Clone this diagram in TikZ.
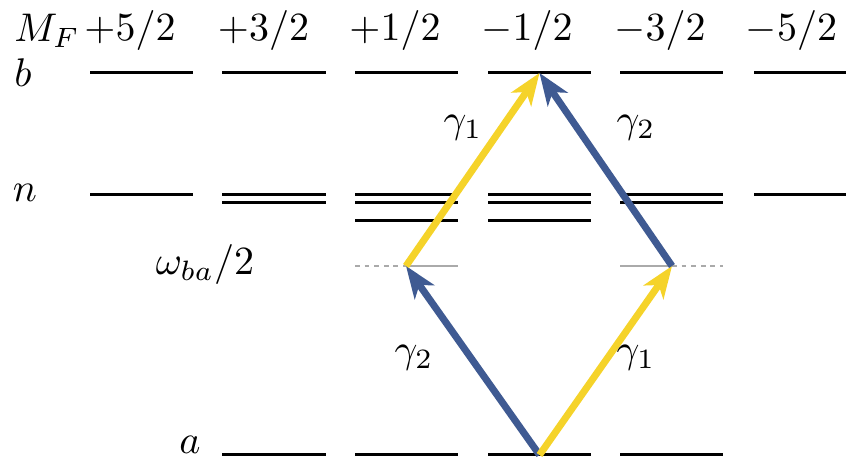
\documentclass[tikz,border=0pt]{standalone}
\usetikzlibrary{arrows.meta}
\definecolor{gold}{HTML}{F5D32A}
\definecolor{navy}{HTML}{3F5A92}
\definecolor{wgray}{HTML}{AAAAAA}
\begin{document}
\begin{tikzpicture}[x=0.25pt,y=-0.25pt,
  level/.style={line width=0.75pt,black},
  wsolid/.style={line width=0.45pt,wgray},
  wdash/.style={line width=0.45pt,wgray,dash pattern=on 1.2pt off 1.2pt},
  photon/.style={line width=1.75pt,-{Stealth[length=8pt,width=6pt,inset=2.2pt]}},
  lbl/.style={inner sep=0pt}]
\useasboundingbox (0,0) rectangle (846,467);
% header
\node[lbl] (mf) at (47,31) {$M_F$};
\node[lbl] (c1) at (130,31) {$+5/2$};
\node[lbl] (c2) at (263.5,31) {$+3/2$};
\node[lbl] (c3) at (395,31) {$+1/2$};
\node[lbl] (c4) at (527,31) {$-1/2$};
\node[lbl] (c5) at (660,31) {$-3/2$};
\node[lbl] (c6) at (791.5,31) {$-5/2$};
% row labels
\node[lbl] (lb) at (23,73) {$b$};
\node[lbl] (ln) at (25,193) {$n$};
\node[lbl] (lw) at (205,265) {$\omega_{ba}/2$};
\node[lbl] (la) at (190,445) {$a$};
% b levels
\foreach \xa/\xb in {90/193,222/326,355/458,488/591,620/723,754/846}
  \draw[level] (\xa,73) -- (\xb,73);
% n levels
\draw[level] (90,195) -- (193,195);
\draw[level] (754,195) -- (846,195);
\foreach \xa/\xb in {222/326,355/458,488/591,620/723}{
  \draw[level] (\xa,195) -- (\xb,195);
  \draw[level] (\xa,203) -- (\xb,203);}
\foreach \xa/\xb in {355/458,488/591}
  \draw[level] (\xa,221) -- (\xb,221);
% a levels
\foreach \xa/\xb in {222/326,355/458,488/591,620/723}
  \draw[level] (\xa,455) -- (\xb,455);
% virtual levels
\coordinate (a4) at (539.5,455);
\coordinate (b4) at (539.5,73);
\coordinate (w3) at (406,266);
\coordinate (w5) at (672,266);
\draw[wdash] (355,266) -- (w3);
\draw[wsolid] (w3) -- (458,266);
\draw[wsolid] (620,266) -- (w5);
\draw[wdash] (w5) -- (723,266);
% photons
\draw[photon,navy] (a4) -- (w3);
\draw[photon,gold] (a4) -- (w5);
\draw[photon,gold] (w3) -- (b4);
\draw[photon,navy] (w5) -- (b4);
% photon labels
\node[lbl] (g1t) at (463,128) {$\gamma_1$};
\node[lbl] (g2t) at (636,128) {$\gamma_2$};
\node[lbl] (g2b) at (414,358) {$\gamma_2$};
\node[lbl] (g1b) at (636,358) {$\gamma_1$};
\end{tikzpicture}
\end{document}
